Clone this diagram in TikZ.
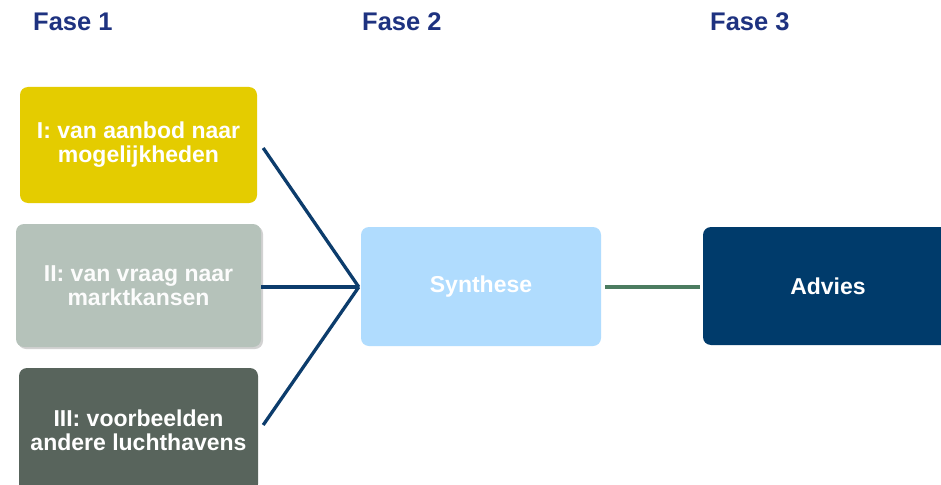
\documentclass[tikz,border=0pt]{standalone}
\usepackage{fontspec}
\setmainfont{Liberation Sans}
\usetikzlibrary{shadows,calc}
\definecolor{headblue}{RGB}{30,50,128}
\definecolor{cyellow}{RGB}{228,204,0}
\definecolor{cgrey}{RGB}{181,194,186}
\definecolor{cdark}{RGB}{88,100,92}
\definecolor{clight}{RGB}{176,220,254}
\definecolor{cnavy}{RGB}{0,59,107}
\definecolor{lineblue}{RGB}{12,60,108}
\definecolor{linegreen}{RGB}{76,124,96}
\begin{document}
\begin{tikzpicture}[x=1pt,y=-1pt,
  heading/.style={anchor=base west,text=headblue,font=\fontsize{25.5}{28}\selectfont\bfseries,inner sep=0pt},
  boxbase/.style={rounded corners=8pt,align=center,text=white,inner sep=0pt,
    font=\fontsize{23}{24}\selectfont\bfseries},
  conn/.style={draw=lineblue,line width=3.3pt},
  conng/.style={draw=linegreen,line width=3.3pt}]
\useasboundingbox (0,0) rectangle (941,484);
\clip (0,0) rectangle (941,484);
\fill[white] (0,0) rectangle (941,484);
\node[heading] (f1) at (33,31) {Fase 1};
\node[heading] (f2) at (362,31) {Fase 2};
\node[heading] (f3) at (710,31) {Fase 3};
\node[boxbase,fill=cyellow,minimum width=237pt,minimum height=116pt] (b1) at (138.5,145) {I: van aanbod naar\\mogelijkheden};
\node[boxbase,fill=cgrey,minimum width=245pt,minimum height=123pt,text=white!96!cgrey,
  drop shadow={opacity=0.35,shadow xshift=2pt,shadow yshift=-2pt}] (b2) at (138.5,285.5) {II: van vraag naar\\marktkansen};
\node[boxbase,fill=cdark,minimum width=239pt,minimum height=124pt] (b3) at (138.5,430) {III: voorbeelden\\andere luchthavens};
\node[boxbase,fill=clight,minimum width=240pt,minimum height=119pt] (syn) at (481,286.5) {Synthese};
\node[boxbase,fill=cnavy,minimum width=250pt,minimum height=118pt] (adv) at (828,286) {Advies};
\coordinate (apex) at ($(syn.west)+(-2,0.5)$);
\coordinate (s1) at ($(b1.east)+(6,3)$);
\coordinate (s2) at ($(b2.east)+(0,1.5)$);
\coordinate (s3) at ($(b3.east)+(5,-5)$);
\draw[conn] (s1) -- (apex);
\draw[conn] (s2) -- (apex);
\draw[conn] (s3) -- (apex);
\draw[conng] ($(syn.east)+(4,0.5)$) -- ($(adv.west)+(-3,1)$);
\end{tikzpicture}
\end{document}
